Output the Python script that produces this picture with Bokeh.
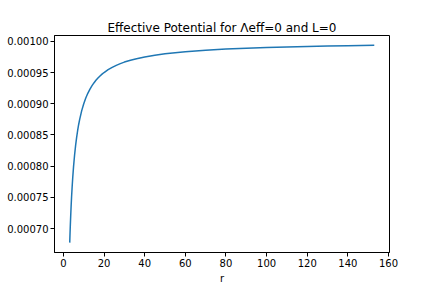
from bokeh.plotting import figure
from bokeh.models import Range1d, FixedTicker, PrintfTickFormatter
from bokeh.embed import file_html
from bokeh.resources import INLINE

# values
r_vals = [3.1, 3.2, 3.3, 3.4, 3.6, 3.8, 4.0, 4.3, 4.6, 5.0, 5.5, 6.0, 6.5, 7.0, 7.5,
          8.0, 9.0, 10, 11, 12, 13, 14, 15, 16, 17, 18, 19, 20, 22, 24, 26, 28, 30,
          33, 36, 40, 45, 50, 55, 60, 65, 70, 80, 90, 100, 110, 120, 130, 140, 153]
v_vals = [0.0006774, 0.0006875, 0.0006970, 0.0007059, 0.0007222, 0.0007368,
          0.0007500, 0.0007674, 0.0007826, 0.0008000, 0.0008182, 0.0008333,
          0.0008462, 0.0008571, 0.0008667, 0.0008750, 0.0008889, 0.0009000,
          0.0009091, 0.0009167, 0.0009231, 0.0009286, 0.0009333, 0.0009375,
          0.0009412, 0.0009444, 0.0009474, 0.0009500, 0.0009545, 0.0009583,
          0.0009615, 0.0009643, 0.0009667, 0.0009697, 0.0009722, 0.0009750,
          0.0009778, 0.0009800, 0.0009818, 0.0009833, 0.0009846, 0.0009857,
          0.0009875, 0.0009889, 0.0009900, 0.0009909, 0.0009917, 0.0009923,
          0.0009929, 0.0009935]
x_ticks = [0, 20, 40, 60, 80, 100, 120, 140, 160]
y_ticks = [0.00070, 0.00075, 0.00080, 0.00085, 0.00090, 0.00095, 0.00100]
title_text = "Effective Potential for Λeff=0 and L=0"
x_label = "r"

xmin, xmax = min(r_vals), max(r_vals)
ymin, ymax = min(v_vals), max(v_vals)
xp = (xmax - xmin) * 0.05
yp = (ymax - ymin) * 0.05

FONT = "DejaVu Sans"

p = figure(frame_width=335, frame_height=217, output_backend="svg", toolbar_location=None,
           x_range=Range1d(xmin - xp, xmax + xp), y_range=Range1d(ymin - yp, ymax + yp),
           min_border_left=54, min_border_right=43, min_border_top=35, min_border_bottom=36)

p.line(r_vals, v_vals, line_color="#1f77b4", line_width=1.5)

p.title.text = title_text
p.title.align = "center"
p.title.text_font = FONT
p.title.text_font_size = "12px"
p.title.text_font_style = "normal"
p.title.text_color = "black"
p.title.standoff = 2

p.grid.visible = False
p.outline_line_color = "black"
p.outline_line_width = 1
p.outline_line_alpha = 1

for ax in (p.xaxis, p.yaxis):
    ax.major_label_text_font = FONT
    ax.major_label_text_font_size = "10px"
    ax.major_label_text_color = "black"
    ax.axis_line_color = "black"
    ax.major_tick_line_color = "black"
    ax.major_tick_out = 4
    ax.major_tick_in = 0
    ax.minor_tick_line_color = None
    ax.major_label_standoff = 2

p.xaxis.ticker = FixedTicker(ticks=x_ticks)
p.yaxis.ticker = FixedTicker(ticks=y_ticks)
p.yaxis.formatter = PrintfTickFormatter(format="%.5f")
p.xaxis.axis_label = x_label
p.xaxis.axis_label_text_font = FONT
p.xaxis.axis_label_text_font_size = "10px"
p.xaxis.axis_label_text_font_style = "normal"
p.xaxis.axis_label_text_color = "black"
p.xaxis.axis_label_standoff = 3

open("out.html", "w").write(file_html(p, INLINE))
